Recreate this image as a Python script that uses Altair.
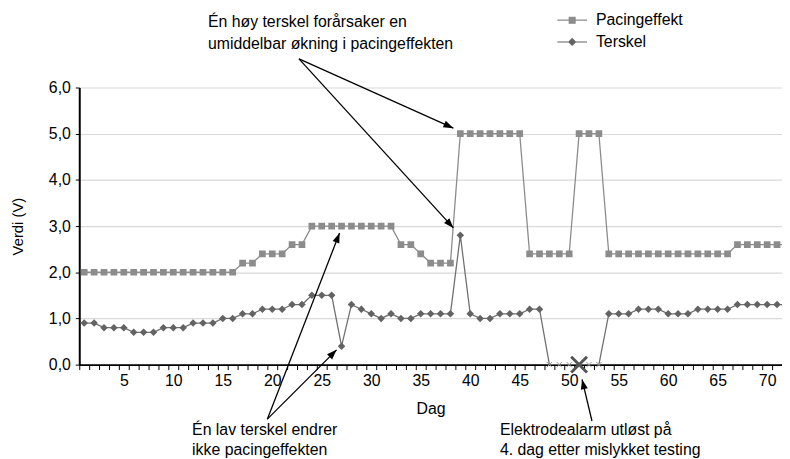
import math
import altair as alt
import pandas as pd

FONT = "Liberation Sans, Arial, sans-serif"

# ---------------- data ----------------
days = list(range(1, 73))
series_names = ["Pacingeffekt", "Terskel"]

pacing = [2.0, 2.0, 2.0, 2.0, 2.0, 2.0, 2.0, 2.0, 2.0, 2.0, 2.0, 2.0, 2.0, 2.0, 2.0, 2.0,
          2.2, 2.2, 2.4, 2.4, 2.4, 2.6, 2.6,
          3.0, 3.0, 3.0, 3.0, 3.0, 3.0, 3.0, 3.0, 3.0,
          2.6, 2.6, 2.4, 2.2, 2.2, 2.2,
          5.0, 5.0, 5.0, 5.0, 5.0, 5.0, 5.0,
          2.4, 2.4, 2.4, 2.4, 2.4,
          5.0, 5.0, 5.0,
          2.4, 2.4, 2.4, 2.4, 2.4, 2.4, 2.4, 2.4, 2.4, 2.4, 2.4, 2.4, 2.4,
          2.6, 2.6, 2.6, 2.6, 2.6, 2.6]

terskel = [0.9, 0.9, 0.8, 0.8, 0.8, 0.7, 0.7, 0.7, 0.8, 0.8, 0.8, 0.9, 0.9, 0.9,
           1.0, 1.0, 1.1, 1.1, 1.2, 1.2, 1.2, 1.3, 1.3,
           1.5, 1.5, 1.5, 0.4, 1.3, 1.2, 1.1, 1.0, 1.1, 1.0, 1.0,
           1.1, 1.1, 1.1, 1.1, 2.8, 1.1, 1.0, 1.0, 1.1, 1.1, 1.1, 1.2, 1.2,
           0.0, 0.0, 0.0, 0.0, 0.0, 0.0,
           1.1, 1.1, 1.1, 1.2, 1.2, 1.2, 1.1, 1.1, 1.1, 1.2, 1.2, 1.2, 1.2,
           1.3, 1.3, 1.3, 1.3, 1.3, 1.3]

alarm_day = [51]
alarm_value = [0.0]

# annotations (data coordinates)
note_text = ["Én høy terskel forårsaker en", "umiddelbar økning i pacingeffekten",
             "Én lav terskel endrer", "ikke pacingeffekten",
             "Elektrodealarm utløst på", "4. dag etter mislykket testing"]
note_x = [13.5, 13.5, 11.9, 11.9, 43.0, 43.0]
note_y = [7.41, 6.93, -1.42, -1.84, -1.42, -1.84]

arrow_x1 = [22.7, 22.7, 19.5, 19.5, 52.3]
arrow_y1 = [6.62, 6.62, -1.18, -1.18, -1.22]
arrow_x2 = [38.3, 38.3, 26.8, 26.5, 51.3]
arrow_y2 = [5.12, 2.96, 2.85, 0.32, -0.32]

# ---------------- layout constants ----------------
W, H = 710, 280
X_DOMAIN = [0.5, 71.5]
Y_DOMAIN = [0, 6]
PX_DAY = W / (X_DOMAIN[1] - X_DOMAIN[0])
PX_V = H / (Y_DOMAIN[1] - Y_DOMAIN[0])

C_PACE = "#8c8c8c"
C_TERS = "#636363"
C_TERS_LINE = "#707070"

pace_df = pd.DataFrame({"Dag": days, "Verdi": pacing})
ters_df = pd.DataFrame({"Dag": days, "Verdi": terskel})
alarm_df = pd.DataFrame({"Dag": alarm_day, "Verdi": alarm_value})
note_df = pd.DataFrame({"x": note_x, "y": note_y, "t": note_text})

angles = []
for a, b, c, d in zip(arrow_x1, arrow_y1, arrow_x2, arrow_y2):
    dx = (c - a) * PX_DAY
    dy = -(d - b) * PX_V
    angles.append(math.degrees(math.atan2(dx, -dy)) % 360)
arrow_df = pd.DataFrame({"x": arrow_x1, "y": arrow_y1, "x2": arrow_x2, "y2": arrow_y2, "ang": angles})

xscale = alt.Scale(domain=X_DOMAIN, nice=False, zero=False)
yscale = alt.Scale(domain=Y_DOMAIN, nice=False, zero=False)

tick_values = [d - 0.5 for d in days] + [72.5]
tick_values = [v for v in tick_values if v <= X_DOMAIN[1]]

xaxis = alt.Axis(
    values=tick_values, grid=False, title="Dag",
    labelExpr="(datum.value + 0.5) % 5 == 0 ? format(datum.value + 0.5, 'd') : ''",
    labelOffset=PX_DAY / 2, labelOverlap=False, labelFlush=False,
    tickSize=5, tickColor="black", tickWidth=1,
    domainColor="black", domainWidth=2,
    labelFont=FONT, labelFontSize=16, labelColor="black", labelPadding=3,
    titleFont=FONT, titleFontSize=16, titleFontWeight="normal", titleColor="black",
    titlePadding=12,
)
yaxis = alt.Axis(
    values=[0, 1, 2, 3, 4, 5, 6], grid=True, gridColor="#d9d9d9", gridWidth=1.2,
    title="Verdi (V)",
    labelExpr="replace(format(datum.value, '.1f'), '.', ',')",
    tickSize=4, tickColor="black", tickWidth=1,
    domainColor="black", domainWidth=2,
    labelFont=FONT, labelFontSize=16, labelColor="black", labelPadding=5,
    titleFont=FONT, titleFontSize=15, titleFontWeight="normal", titleColor="black",
    titlePadding=23,
)

X = alt.X("Dag:Q", scale=xscale, axis=xaxis)
Y = alt.Y("Verdi:Q", scale=yscale, axis=yaxis)
XA = alt.X("x:Q", scale=xscale, axis=xaxis)
YA = alt.Y("y:Q", scale=yscale, axis=yaxis)

pace_line = alt.Chart(pace_df).mark_line(color=C_PACE, strokeWidth=1.3, clip=True).encode(x=X, y=Y)
pace_pts = alt.Chart(pace_df).mark_point(shape="square", filled=True, size=46, color=C_PACE,
                                         opacity=1, clip=True).encode(x=X, y=Y)
ters_line = alt.Chart(ters_df).mark_line(color=C_TERS_LINE, strokeWidth=1.3, clip=True).encode(x=X, y=Y)
ters_pts = alt.Chart(ters_df).transform_filter("datum.Verdi > 0").mark_point(
    shape="diamond", filled=True, size=58, color=C_TERS, opacity=1, clip=True).encode(x=X, y=Y)
ters_zero = alt.Chart(ters_df).transform_filter("datum.Verdi == 0").mark_point(
    shape="M-1,-1L1,1M-1,1L1,-1", filled=False, size=28, color="#9a9a9a", strokeWidth=1,
    opacity=1, clip=False).encode(x=X, y=Y)
alarm = alt.Chart(alarm_df).mark_point(
    shape="M-1,-1L1,1M-1,1L1,-1", filled=False, size=256, color="#555555", strokeWidth=3,
    opacity=1, clip=False).encode(x=X, y=Y)

arrows = alt.Chart(arrow_df).mark_rule(color="black", strokeWidth=1.3, clip=False).encode(
    x=XA, y=YA, x2="x2:Q", y2="y2:Q")
heads = alt.Chart(arrow_df).mark_point(
    shape="M0,0L-0.36,1L0.36,1Z", filled=True, size=400, color="black", opacity=1, clip=False
).encode(x=alt.X("x2:Q", scale=xscale, axis=xaxis), y=alt.Y("y2:Q", scale=yscale, axis=yaxis),
         angle=alt.Angle("ang:Q", scale=None))
notes = alt.Chart(note_df).mark_text(align="left", baseline="middle", font=FONT, fontSize=16,
                                     color="black", clip=False).encode(x=XA, y=YA, text="t:N")

# legend carrier (no data drawn, explicit domain)
leg_paths = ["M-1.36,0L1.36,0M-0.27,-0.27L0.27,-0.27L0.27,0.27L-0.27,0.27Z",
             "M-1.36,0L1.36,0M0,-0.3L0.3,0L0,0.3L-0.3,0Z"]
leg_df = pd.DataFrame({"Serie": series_names, "Dag": [1, 1], "Verdi": [1, 1]})
legend = alt.Legend(title=None, orient="none", legendX=486, legendY=-80,
                    labelFont=FONT, labelFontSize=16, labelColor="black",
                    symbolSize=484, symbolStrokeWidth=1.2, labelOffset=12, rowPadding=2,
                    symbolOpacity=1)
leg_layer = alt.Chart(leg_df).transform_filter("false").mark_point(
    filled=True, size=484, strokeWidth=1.2).encode(
    x=X, y=Y,
    color=alt.Color("Serie:N", scale=alt.Scale(domain=series_names, range=[C_PACE, C_TERS]), legend=legend),
    stroke=alt.Stroke("Serie:N", scale=alt.Scale(domain=series_names, range=[C_PACE, C_TERS]), legend=legend),
    shape=alt.Shape("Serie:N", scale=alt.Scale(domain=series_names, range=leg_paths), legend=legend),
)

chart = alt.layer(
    pace_line, ters_line, pace_pts, ters_pts, ters_zero, alarm, arrows, heads, notes, leg_layer
).properties(
    width=W, height=H,
    autosize=alt.AutoSizeParams(type="none"),
    padding={"left": 72, "top": 78, "right": 0, "bottom": 92},
).configure_view(stroke=None)

chart.save("out.html", embed_options={"renderer": "svg", "actions": False})
